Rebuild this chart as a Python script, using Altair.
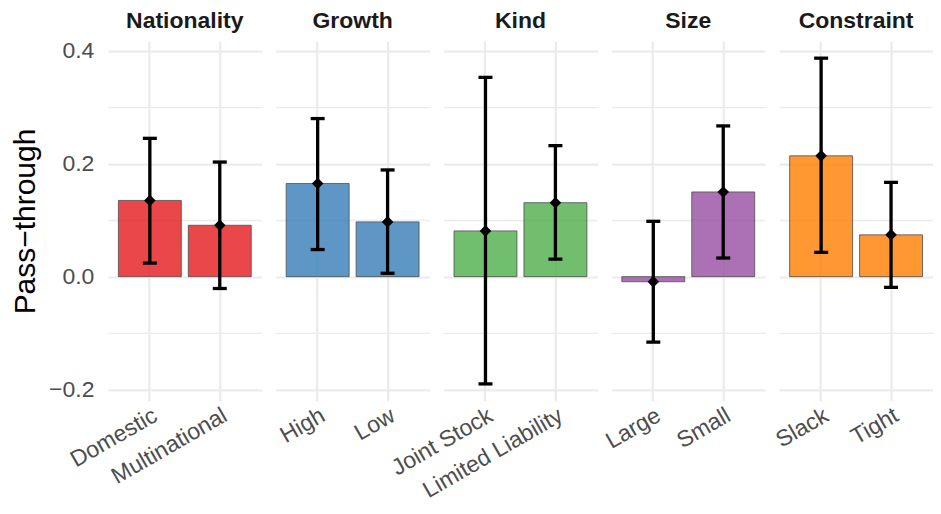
import altair as alt
import pandas as pd

# ---- data ----
group_order = ["Nationality", "Growth", "Kind", "Size", "Constraint"]
groups = ["Nationality", "Nationality", "Growth", "Growth", "Kind", "Kind",
          "Size", "Size", "Constraint", "Constraint"]
levels = ["Domestic", "Multinational", "High", "Low", "Joint Stock",
          "Limited Liability", "Large", "Small", "Slack", "Tight"]
estimate = [0.135, 0.091, 0.165, 0.097, 0.081, 0.131, -0.009, 0.150, 0.214, 0.074]
lower = [0.024, -0.021, 0.048, 0.006, -0.190, 0.031, -0.116, 0.033, 0.043, -0.019]
upper = [0.245, 0.203, 0.280, 0.189, 0.353, 0.232, 0.098, 0.267, 0.387, 0.167]
palette = ["#E41A1C", "#377EB8", "#4DAF4A", "#984EA3", "#FF7F00"]
y_ticks = [-0.2, -0.1, 0.0, 0.1, 0.2, 0.3, 0.4]

df = pd.DataFrame({"group": groups, "level": levels, "est": estimate,
                   "lo": lower, "hi": upper})

FONT = "Liberation Sans"
GRID = "#EBEBEB"

x_enc = alt.X(
    "level:N", title=None,
    scale=alt.Scale(paddingInner=0.1, paddingOuter=0.15),
    axis=alt.Axis(labelAngle=-30, labelFontSize=23, labelColor="#4D4D4D",
                  labelFont=FONT, domain=False, ticks=False, grid=True,
                  gridColor=GRID, gridWidth=2.2, bandPosition=0.5,
                  labelPadding=3, labelLimit=400, labelOverlap=False),
)
y_scale = alt.Scale(domain=[-0.22, 0.417], nice=False)
y_axis = alt.Axis(
    values=y_ticks, format=".1f",
    labelExpr="abs(round(datum.value*10)) % 2 == 0 ? datum.label : ''",
    gridColor=GRID,
    gridWidth={"condition": {"test": "abs(round(datum.value*10)) % 2 == 0", "value": 2.2}, "value": 1.4},
    domain=False, ticks=False, labelFontSize=23, labelColor="#4D4D4D",
    labelFont=FONT, labelPadding=14, titleFontSize=30, titleFont=FONT,
    titleFontWeight="normal", titleColor="black", titlePadding=8,
)

bars = alt.Chart().mark_bar(opacity=0.8, stroke="#222222", strokeWidth=0.8).encode(
    x=x_enc,
    y=alt.Y("est:Q", scale=y_scale, title="Pass−through", axis=y_axis),
    y2=alt.datum(0),
    color=alt.Color("group:N", scale=alt.Scale(domain=group_order, range=palette), legend=None),
)
rules = alt.Chart().mark_rule(color="black", strokeWidth=3.3).encode(
    x="level:N", y="lo:Q", y2="hi:Q")
cap_hi = alt.Chart().mark_tick(color="black", thickness=3.3, size=14, opacity=1).encode(
    x="level:N", y="hi:Q")
cap_lo = alt.Chart().mark_tick(color="black", thickness=3.3, size=14, opacity=1).encode(
    x="level:N", y="lo:Q")
pts = alt.Chart().mark_point(shape="diamond", filled=True, size=135, color="black", opacity=1).encode(
    x="level:N", y="est:Q")

chart = (
    alt.layer(bars, rules, cap_hi, cap_lo, pts, data=df)
    .properties(width=154, height=360)
    .facet(
        column=alt.Column("group:N", sort=group_order, title=None,
                          header=alt.Header(labelFontSize=23, labelFontWeight="bold",
                                            labelColor="#1A1A1A", labelFont=FONT,
                                            labelPadding=8)),
        spacing=14,
        bounds="flush",
    )
    .resolve_scale(x="independent")
    .properties(padding={"left": 2, "top": 2, "right": 0, "bottom": 0}, background="white")
    .configure_view(stroke=None)
)

chart.save("out.html", embed_options={"renderer": "svg", "actions": False})
